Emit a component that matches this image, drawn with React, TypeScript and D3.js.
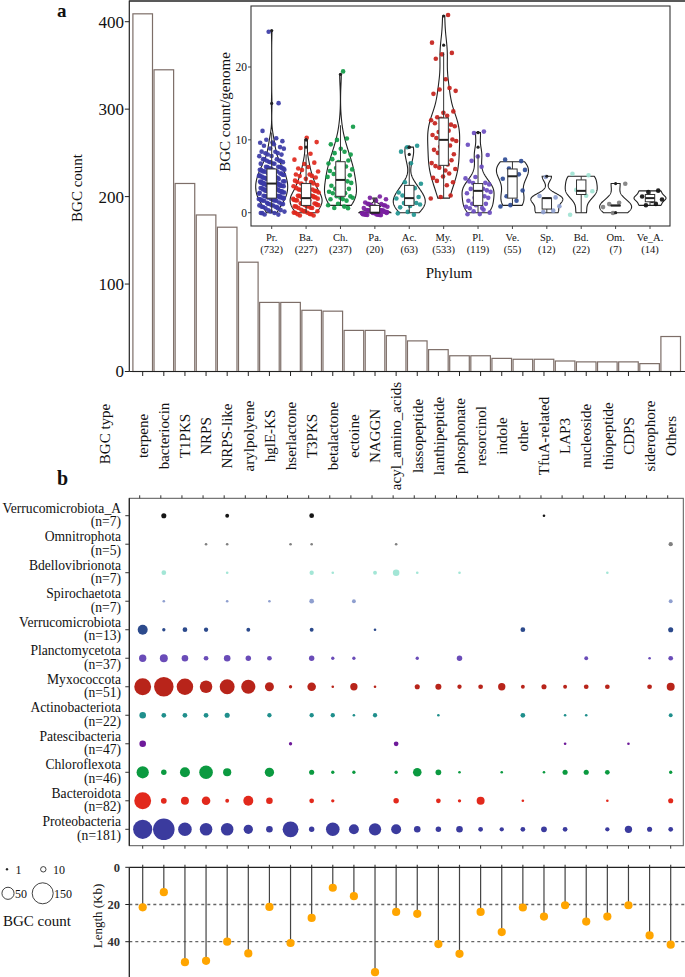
import React from "react";
import * as d3 from "d3";

const W = 685;
const H = 977;
const FONT = "'Liberation Serif', 'Times New Roman', serif";

// ---------- panel a: BGC counts per type ----------
const bgcTypes = ["terpene", "bacteriocin", "T1PKS", "NRPS", "NRPS-like", "arylpolyene", "hglE-KS", "hserlactone", "T3PKS", "betalactone", "ectoine", "NAGGN", "acyl_amino_acids", "lassopeptide", "lanthipeptide", "phosphonate", "resorcinol", "indole", "other", "TfuA-related", "LAP3", "nucleoside", "thiopeptide", "CDPS", "siderophore", "Others"];
const bgcCounts = [409, 345, 215, 179, 165, 125, 79, 79, 70, 69, 47, 47, 41, 35, 25, 18, 18, 15, 14, 14, 12, 11, 11, 11, 9, 40];
const countTicks = [0, 100, 200, 300, 400];

// ---------- inset: BGC count per genome ----------
const phylumAbbr = ["Pr.", "Ba.", "Ch.", "Pa.", "Ac.", "My.", "Pl.", "Ve.", "Sp.", "Bd.", "Om.", "Ve_A."];
const phylumBgcTotals = [732, 227, 237, 20, 63, 533, 119, 55, 12, 22, 7, 14];
const phylumColors = ["#3b3ba6", "#e0281c", "#0f9a45", "#7a1ea0", "#1f9590", "#c4211b", "#6a4cbf", "#2f4c96", "#8e9fd0", "#9fe3d2", "#7f7f7f", "#111111"];
const genomeTicks = [0, 10, 20];
// histograms: [BGCs per genome, number of genomes]
const histPr = [[0, 9], [1, 15], [2, 25], [3, 27], [4, 28], [5, 24], [6, 20], [7, 12], [8, 8], [9, 5], [10, 5], [11, 1], [15, 1], [25, 1]];
const histBa = [[0, 12], [1, 15], [2, 18], [3, 11], [4, 9], [5, 6], [6, 4], [7, 3], [8, 1], [9, 1], [10, 2]];
const histCh = [[1, 5], [2, 7], [3, 6], [4, 5], [5, 5], [6, 5], [7, 4], [8, 3], [9, 2], [10, 2], [12, 1], [19, 1]];
const histPa = [[0, 31], [1, 12], [2, 4]];
const histAc = [[0, 3], [1, 5], [2, 5], [3, 3], [4, 2], [7, 1], [8, 1], [9, 2]];
const histMy = [[2, 3], [4, 3], [5, 3], [6, 4], [7, 4], [8, 3], [9, 3], [10, 4], [11, 4], [12, 4], [13, 4], [14, 2], [16, 1], [17, 3], [18, 1], [21, 1], [22, 2], [23, 1], [27, 1]];
const histPl = [[0, 5], [1, 6], [2, 5], [3, 7], [4, 5], [5, 2], [6, 1], [7, 1], [8, 2], [9, 1], [11, 2]];
const histVe = [[1, 2], [2, 2], [3, 1], [4, 1], [5, 2], [6, 3], [7, 2]];
const histSp = [[0, 2], [1, 1], [2, 3], [5, 1]];
const histBd = [[0, 1], [2, 1], [3, 2], [4, 1], [5, 2]];
const histOm = [[0, 1], [1, 3], [4, 1]];
const histVeA = [[1, 2], [2, 3], [3, 2]];
const phylumHists = [histPr, histBa, histCh, histPa, histAc, histMy, histPl, histVe, histSp, histBd, histOm, histVeA];

// ---------- panel b: bubble matrix ----------
const bubblePhyla = ["Verrucomicrobiota_A", "Omnitrophota", "Bdellovibrionota", "Spirochaetota", "Verrucomicrobiota", "Planctomycetota", "Myxococcota", "Actinobacteriota", "Patescibacteria", "Chloroflexota", "Bacteroidota", "Proteobacteria"];
const bubbleN = [7, 5, 7, 7, 13, 37, 51, 22, 47, 46, 82, 181];
const bubbleColors = ["#151515", "#808080", "#a3e6d6", "#8f9fcf", "#2c4a8c", "#6a4cb8", "#b8241a", "#1f8f8c", "#6e1a9a", "#0b9a40", "#e2291c", "#3b3b9e"];
const countsVerrA = [0, 6, 0, 0, 3, 0, 0, 0, 5, 0, 0, 0, 0, 0, 0, 0, 0, 0, 0, 1, 0, 0, 0, 0, 0, 0];
const countsOmni = [0, 0, 0, 1, 1, 0, 0, 1, 1, 0, 0, 0, 1, 0, 0, 0, 0, 0, 0, 0, 0, 0, 0, 0, 0, 4];
const countsBdello = [0, 5, 0, 0, 1, 0, 0, 0, 4, 1, 0, 3, 11, 1, 0, 1, 0, 0, 0, 0, 0, 0, 1, 0, 0, 0];
const countsSpiro = [0, 1, 0, 0, 1, 0, 1, 0, 5, 0, 3, 0, 0, 0, 0, 0, 0, 0, 0, 0, 0, 0, 0, 0, 0, 3];
const countsVerr = [28, 2, 5, 4, 0, 3, 0, 0, 3, 0, 0, 1, 0, 0, 0, 0, 0, 0, 5, 0, 0, 0, 0, 0, 0, 6];
const countsPlancto = [14, 17, 11, 5, 11, 7, 5, 0, 7, 2, 2, 0, 0, 2, 0, 7, 0, 0, 0, 0, 0, 3, 0, 0, 1, 5];
const countsMyxo = [87, 118, 83, 46, 67, 60, 22, 2, 20, 1, 14, 1, 0, 6, 9, 4, 5, 14, 3, 6, 3, 5, 5, 0, 5, 17];
const countsActino = [11, 5, 5, 5, 6, 0, 4, 0, 4, 4, 1, 4, 0, 0, 1, 0, 0, 0, 5, 0, 1, 1, 0, 0, 0, 3];
const countsPates = [11, 0, 0, 0, 0, 0, 0, 2, 0, 0, 0, 0, 5, 0, 0, 0, 0, 0, 0, 0, 1, 0, 0, 1, 0, 0];
const countsChloro = [44, 7, 28, 55, 18, 0, 24, 0, 6, 2, 2, 0, 2, 20, 8, 1, 0, 1, 0, 1, 6, 6, 5, 0, 0, 2];
const countsBact = [87, 8, 17, 20, 3, 28, 11, 0, 5, 2, 0, 0, 7, 0, 5, 2, 17, 0, 1, 0, 0, 0, 1, 0, 0, 6];
const countsProteo = [114, 145, 55, 46, 46, 24, 11, 76, 7, 55, 28, 44, 28, 11, 7, 11, 5, 4, 5, 8, 5, 0, 4, 14, 6, 5];
const bubbleCounts = [countsVerrA, countsOmni, countsBdello, countsSpiro, countsVerr, countsPlancto, countsMyxo, countsActino, countsPates, countsChloro, countsBact, countsProteo];
const legendRow1 = [1, 10];
const legendRow2 = [50, 150];

// ---------- bottom: BGC length ----------
const bgcLengthKb = [21.5, 13.4, 51, 50.3, 40, 46.3, 21.3, 40.7, 27.2, 11, 15.5, 56.4, 24, 25, 41.3, 46.5, 24, 34.8, 21.6, 26.5, 20.4, 29.2, 26.5, 20.4, 36.6, 41.6];
const lengthTicks = [0, 20, 40];

// deterministic layout jitter (position only)
const jx = (i: number) => ((i * 0.6180339887 + 0.137) % 1) - 0.5;
const jy = (i: number) => ((i * 0.7548776662 + 0.421) % 1) - 0.5;

export default function App() {
  // scales
  const colX = d3.scalePoint<string>().domain(bgcTypes).range([142.7, 670.7]);
  const yBar = d3.scaleLinear().domain([0, 400]).range([371.5, 21.7]);
  const barW = 19.6;
  const AX = 129.3;

  const inX = d3.scalePoint<string>().domain(phylumAbbr).range([271.7, 650]);
  const inY = d3.scaleLinear().domain([0, 20]).range([212.7, 67]);
  const inset = { x0: 251, y0: 6, x1: 670, y1: 226 };

  const rowY = d3.scalePoint<string>().domain(bubblePhyla).range([515.7, 829.3]);
  const rScale = d3.scaleSqrt().domain([0, 150]).range([0, 10.5]);
  const rDot = (v: number) => rScale(v) + 0.45;
  const bp = { x0: AX, y0: 498.3, x1: 683.3, y1: 845.7 };

  const yLen = d3.scaleLinear().domain([0, 40]).range([867.3, 941.7]);

  // violins
  const violins = phylumHists.map((hist, pi) => {
    const vals: number[] = [];
    hist.forEach(([v, c]) => { for (let k = 0; k < c; k++) vals.push(v); });
    const sorted = vals.slice().sort(d3.ascending);
    const n = sorted.length;
    const sd = d3.deviation(sorted) || 1;
    const q1 = d3.quantile(sorted, 0.25) as number;
    const q2 = d3.quantile(sorted, 0.5) as number;
    const q3 = d3.quantile(sorted, 0.75) as number;
    const iqr = q3 - q1;
    let lo = Math.min(sd, iqr / 1.34);
    if (!(lo > 0)) lo = sd;
    const bw = 0.9 * lo * Math.pow(n, -0.2);
    const mn = sorted[0], mx = sorted[n - 1];
    const pts = d3.range(121).map((k) => {
      const y = mn + ((mx - mn) * k) / 120;
      const d = d3.sum(sorted, (v) => Math.exp(-0.5 * ((y - v) / bw) ** 2));
      return [y, d];
    });
    const dmax = d3.max(pts, (p) => p[1]) as number;
    const cx = inX(phylumAbbr[pi]) as number;
    const hw = 16;
    const area = d3.area<number[]>()
      .y((p) => inY(p[0]))
      .x0((p) => cx - (hw * p[1]) / dmax)
      .x1((p) => cx + (hw * p[1]) / dmax);
    const upF = q3 + 1.5 * iqr, loF = q1 - 1.5 * iqr;
    const whiskHi = d3.max(sorted.filter((v) => v <= upF)) as number;
    const whiskLo = d3.min(sorted.filter((v) => v >= loF)) as number;
    const outliers = sorted.filter((v) => v > upF || v < loF);
    return { vals, cx, path: area(pts) as string, q1, q2, q3, whiskHi, whiskLo, outliers, color: phylumColors[pi] };
  });

  const txt = (extra: any = {}) => ({ fontFamily: FONT, fill: "#111", ...extra });

  return (
    <svg width={W} height={H} style={{ position: "absolute", left: 0, top: 0, background: "#fff" }} fontFamily={FONT}>
      <rect x={0} y={0} width={W} height={H} fill="#fff" />
      {/* ================= panel a ================= */}
      <text x={57} y={17} fontSize={19} fontWeight="bold" {...txt()}>a</text>
      {/* bars */}
      {bgcTypes.map((t, i) => (
        <rect key={t} x={(colX(t) as number) - barW / 2} y={yBar(bgcCounts[i])} width={barW}
          height={yBar(0) - yBar(bgcCounts[i])} fill="#fff" stroke="#7d6e68" strokeWidth={1.2} />
      ))}
      {/* axes */}
      <line x1={AX} x2={AX} y1={0.5} y2={yBar(0)} stroke="#222" strokeWidth={1.2} />
      <line x1={AX} x2={W} y1={1} y2={1} stroke="#222" strokeWidth={1.5} />
      <line x1={AX} x2={W} y1={yBar(0)} y2={yBar(0)} stroke="#222" strokeWidth={1.2} />
      {countTicks.map((t) => (
        <g key={t}>
          <line x1={AX - 4.5} x2={AX} y1={yBar(t)} y2={yBar(t)} stroke="#222" strokeWidth={1} />
          <text x={124} y={yBar(t)} dy="0.35em" textAnchor="end" fontSize={17} {...txt()}>{t}</text>
        </g>
      ))}
      {bgcTypes.map((t) => (
        <line key={t} x1={colX(t)} x2={colX(t)} y1={yBar(0)} y2={yBar(0) + 4.5} stroke="#222" strokeWidth={1} />
      ))}
      <text transform="translate(77,188) rotate(-90)" textAnchor="middle" dy="0.35em" fontSize={15} {...txt()}>BGC count</text>

      {/* type labels */}
      <text transform="translate(105,434) rotate(-90)" textAnchor="middle" dy="0.35em" fontSize={15} {...txt()}>BGC type</text>
      {bgcTypes.map((t) => (
        <text key={t} transform={`translate(${colX(t)},436) rotate(-90)`} textAnchor="middle" dy="0.35em" fontSize={15} {...txt()}>{t}</text>
      ))}

      {/* ================= inset ================= */}
      <rect x={inset.x0} y={inset.y0} width={inset.x1 - inset.x0} height={inset.y1 - inset.y0} fill="#fff" stroke="#333" strokeWidth={1.1} />
      {genomeTicks.map((t) => (
        <g key={t}>
          <line x1={inset.x0 - 3} x2={inset.x0} y1={inY(t)} y2={inY(t)} stroke="#333" strokeWidth={0.9} />
          <text x={inset.x0 - 4} y={inY(t)} dy="0.35em" textAnchor="end" fontSize={11.5} {...txt()}>{t}</text>
        </g>
      ))}
      {violins.map((v, pi) => (
        <g key={pi}>
          <path d={v.path} fill="none" stroke="#222" strokeWidth={1.1} />
          {v.vals.map((val, k) => (
            <circle key={k} cx={v.cx + jx(k + pi * 7) * 2 * 13} cy={inY(val + jy(k + pi * 11) * 0.8)} r={2.3} fill={v.color} opacity={0.92} />
          ))}
          <line x1={v.cx} x2={v.cx} y1={inY(v.q3)} y2={inY(v.whiskHi)} stroke="#333" strokeWidth={1} />
          <line x1={v.cx} x2={v.cx} y1={inY(v.q1)} y2={inY(v.whiskLo)} stroke="#333" strokeWidth={1} />
          <rect x={v.cx - 4.7} width={9.4} y={inY(v.q3)} height={Math.max(0.5, inY(v.q1) - inY(v.q3))} fill="#fff" stroke="#333" strokeWidth={1} />
          <line x1={v.cx - 4.7} x2={v.cx + 4.7} y1={inY(v.q2)} y2={inY(v.q2)} stroke="#222" strokeWidth={2} />
          {v.outliers.map((o, k) => (
            <circle key={"o" + k} cx={v.cx} cy={inY(o)} r={1.6} fill="#222" />
          ))}
          <line x1={v.cx} x2={v.cx} y1={inset.y1} y2={inset.y1 + 3} stroke="#333" strokeWidth={0.9} />
          <text x={v.cx} y={240.5} textAnchor="middle" fontSize={10.5} {...txt()}>{phylumAbbr[pi]}</text>
          <text x={v.cx} y={253} textAnchor="middle" fontSize={10.5} {...txt()}>({phylumBgcTotals[pi]})</text>
        </g>
      ))}
      <text x={449} y={278} textAnchor="middle" fontSize={15} {...txt()}>Phylum</text>
      <text transform="translate(225,112) rotate(-90)" textAnchor="middle" dy="0.35em" fontSize={15} {...txt()}>BGC count/genome</text>

      {/* ================= panel b ================= */}
      <text x={57} y={485} fontSize={20} fontWeight="bold" {...txt()}>b</text>
      <rect x={bp.x0} y={bp.y0} width={bp.x1 - bp.x0} height={bp.y1 - bp.y0} fill="none" stroke="#555" strokeWidth={1} />
      <line x1={bp.x0} x2={bp.x0} y1={bp.y0} y2={bp.y1} stroke="#222" strokeWidth={1.2} />
      {bgcTypes.map((t) => (
        <g key={t}>
          <line x1={(colX(t) as number) - 3} x2={(colX(t) as number) - 3} y1={bp.y0 - 3} y2={bp.y0} stroke="#333" strokeWidth={1} />
          <line x1={colX(t)} x2={colX(t)} y1={bp.y1} y2={bp.y1 + 3} stroke="#333" strokeWidth={1} />
        </g>
      ))}
      {bubblePhyla.map((p, ri) => {
        const y = rowY(p) as number;
        return (
          <g key={p}>
            <line x1={AX - 4} x2={AX} y1={y} y2={y} stroke="#333" strokeWidth={1} />
            <text x={121} y={y - 3} textAnchor="end" fontSize={13.6} {...txt()}>{p}</text>
            <text x={121} y={y + 10.5} textAnchor="end" fontSize={13.6} {...txt()}>(n={bubbleN[ri]})</text>
            {bubbleCounts[ri].map((c, ci) =>
              c > 0 ? <circle key={ci} cx={colX(bgcTypes[ci])} cy={y} r={rDot(c)} fill={bubbleColors[ri]} /> : null
            )}
          </g>
        );
      })}

      {/* size legend */}
      {legendRow1.map((v, i) => (
        <g key={v}>
          <circle cx={[7, 43.3][i]} cy={869.3} r={rScale(v)} fill={v === 1 ? "#111" : "none"} stroke="#111" strokeWidth={0.8} />
          <text x={[15.5, 53][i]} y={873.5} fontSize={12} {...txt()}>{v}</text>
        </g>
      ))}
      {legendRow2.map((v, i) => (
        <g key={v}>
          <circle cx={[8, 42.7][i]} cy={893.3} r={rScale(v)} fill="none" stroke="#111" strokeWidth={0.8} />
          <text x={[15, 54][i]} y={897.5} fontSize={12} {...txt()}>{v}</text>
        </g>
      ))}
      <text x={3} y={926} fontSize={15} {...txt()}>BGC count</text>

      {/* ================= length lollipop ================= */}
      {lengthTicks.filter((t) => t > 0).map((t) => (
        <line key={t} x1={AX} x2={W} y1={yLen(t)} y2={yLen(t)} stroke="#666" strokeWidth={1.3} strokeDasharray="3,3" />
      ))}
      {bgcTypes.map((t, i) => (
        <line key={t} x1={colX(t)} x2={colX(t)} y1={yLen(0) - 2.5} y2={yLen(bgcLengthKb[i])} stroke="#444" strokeWidth={1.2} />
      ))}
      <line x1={AX} x2={W} y1={yLen(0)} y2={yLen(0)} stroke="#222" strokeWidth={1.3} />
      <line x1={AX} x2={AX} y1={yLen(0)} y2={H} stroke="#222" strokeWidth={1.3} />
      {lengthTicks.map((t) => (
        <g key={t}>
          <line x1={AX - 4} x2={AX} y1={yLen(t)} y2={yLen(t)} stroke="#222" strokeWidth={1} />
          <text x={120} y={yLen(t)} dy="0.35em" textAnchor="end" fontSize={12.5} fontWeight="bold" {...txt({ fill: "#333" })}>{t}</text>
        </g>
      ))}
      {bgcTypes.map((t, i) => (
        <circle key={t} cx={colX(t)} cy={yLen(bgcLengthKb[i])} r={4.1} fill="#ffa500" />
      ))}
      <text transform="translate(97,916) rotate(-90)" textAnchor="middle" dy="0.35em" fontSize={13} {...txt()}>Length (Kb)</text>
    </svg>
  );
}
